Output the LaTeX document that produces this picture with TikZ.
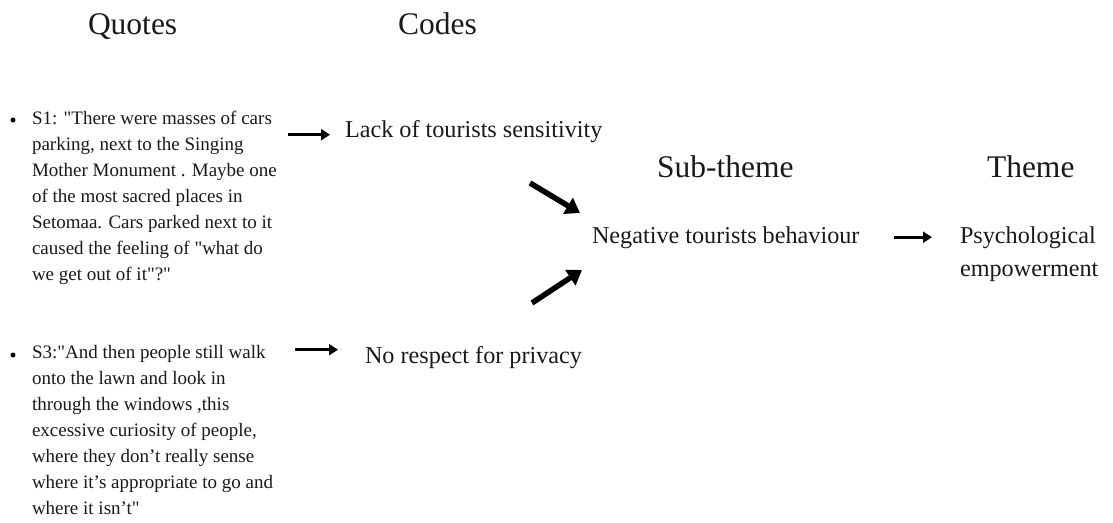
\documentclass[tikz,border=0pt]{standalone}
\usepackage{fontspec}
\setmainfont{Liberation Serif}
\newfontfamily\plainserif{Liberation Serif}
\usetikzlibrary{arrows.meta}
\tikzset{
  txt/.style={inner sep=0pt, outer sep=0pt, text=black!90},
  head/.style={txt, font=\fontsize{31.5}{37}\selectfont, anchor=base west},
  code/.style={txt, font=\fontsize{24.2}{33}\selectfont, anchor=base west},
  quote/.style={txt, font=\plainserif\fontsize{19}{26}\selectfont, align=left, anchor=north west},
  bulletdot/.style={circle, fill=black, inner sep=0pt, minimum size=5pt},
  smallarr/.style={line width=3pt, -{Triangle[length=9pt,width=11pt]}},
  bigarr/.style={line width=5.5pt, -{Triangle[length=14pt,width=18pt]}}
}
\begin{document}
\begin{tikzpicture}[x=1pt,y=-1pt]
\useasboundingbox (0,0) rectangle (1113,522);
% headings
\node[head] (hq) at (88,34) {Quotes};
\node[head] (hc) at (398,34) {Codes};
\node[head] (hs) at (657,177) {Sub-theme};
\node[head] (ht) at (987,177) {Theme};
% bullets
\node[bulletdot] (b1) at (13,120) {};
\node[bulletdot] (b3) at (13,355) {};
% quotes
\node[quote] (q1) at (32,111.5) {S1: "There were masses of cars\\
parking, next to the Singing\\
Mother Monument . Maybe one\\
of the most sacred places in\\
Setomaa. Cars parked next to it\\
caused the feeling of "what do\\
we get out of it"?"};
\node[quote] (q3) at (32,345) {S3:"And then people still walk\\
onto the lawn and look in\\
through the windows ,this\\
excessive curiosity of people,\\
where they don’t really sense\\
where it’s appropriate to go and\\
where it isn’t"};
% codes
\node[code] (lack) at (345,137) {Lack of tourists sensitivity};
\node[code] (norsp) at (365,363) {No respect for privacy};
% sub-theme
\node[code] (neg) at (592,243) {Negative tourists behaviour};
% theme
\node[txt, font=\fontsize{24.2}{33}\selectfont, align=left, anchor=north west] (psy) at (960,226.6) {Psychological\\empowerment};
% connectors
\draw[smallarr, shorten <=11pt, shorten >=15pt] ([yshift=-3.6pt]q1.east |- lack.west) -- ([yshift=-3.6pt]lack.west);
\draw[smallarr, shorten <=22pt, shorten >=27pt] ([yshift=7.4pt]q3.east |- norsp.west) -- ([yshift=7.4pt]norsp.west);
\draw[smallarr, shorten <=35pt, shorten >=28pt] (neg.east) -- (neg.east -| psy.west);
\coordinate (a1s) at (530,183);
\coordinate (a1e) at (580,213);
\coordinate (a2s) at (532,303);
\coordinate (a2e) at (582,270);
\draw[bigarr] (a1s) -- (a1e);
\draw[bigarr] (a2s) -- (a2e);
\end{tikzpicture}
\end{document}
